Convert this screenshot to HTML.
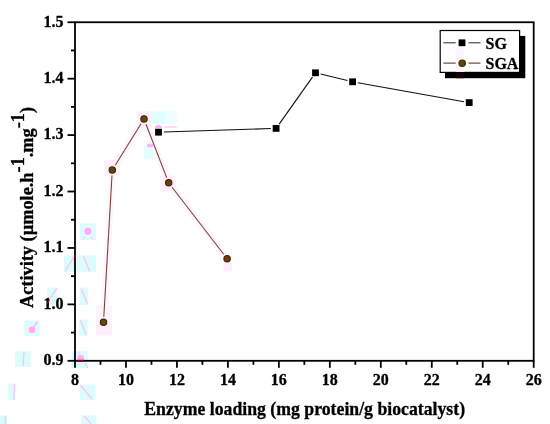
<!DOCTYPE html>
<html><head><meta charset="utf-8"><title>Activity vs Enzyme loading</title>
<style>html,body{margin:0;padding:0;background:#fff;width:550px;height:424px;overflow:hidden}svg{display:block}</style>
</head><body>
<svg width="550" height="424" viewBox="0 0 550 424">
<style>
.t{font-family:"Liberation Serif",serif;font-weight:bold;font-size:16px;fill:#000;stroke:#000;stroke-width:0.3px}
.ti{font-family:"Liberation Serif",serif;font-weight:bold;font-size:17.6px;fill:#000;stroke:#000;stroke-width:0.3px}
</style>
<rect width="550" height="424" fill="#fff"/>
<polyline points="103.5,322.3 112.3,170.0 144.0,119.0 168.7,182.8 227.1,258.7" fill="none" stroke="#fef6fc" stroke-width="7" stroke-linejoin="round"/>
<rect x="136.4" y="111.4" width="15.60" height="16.30" fill="#fdf0fb"/>
<rect x="104.2" y="160" width="15.80" height="15.40" fill="#fdf0fb"/>
<rect x="160.3" y="175.3" width="15.10" height="16.30" fill="#fdf0fb"/>
<rect x="96" y="305" width="16.00" height="13.50" fill="#fef5fc"/>
<rect x="96" y="318.5" width="16.00" height="17.00" fill="#fdf0fb"/>
<rect x="223.3" y="262.5" width="8.70" height="9.00" fill="#fdf0fb"/>
<rect x="80" y="223.4" width="16.10" height="16.70" fill="#dbfcfc"/>
<circle cx="87.9" cy="231.3" r="4.7" fill="#fff" opacity="0.6"/><circle cx="87.9" cy="231.3" r="3.7" fill="#ffabfb"/>
<line x1="85" y1="236" x2="83" y2="240" stroke="#ffd0f8" stroke-width="1.3"/>
<line x1="91" y1="236" x2="93" y2="240" stroke="#ffd0f8" stroke-width="1.3"/>
<rect x="64" y="255.5" width="11.00" height="16.30" fill="#dbfcfc"/>
<line x1="65.1" y1="271.5" x2="74.2" y2="256.2" stroke="#ffc0f5" stroke-width="1.3"/>
<rect x="77" y="255.5" width="19.00" height="16.30" fill="#dbfcfc"/>
<line x1="83.6" y1="256.2" x2="89.5" y2="271.5" stroke="#ffc0f5" stroke-width="1.3"/>
<rect x="47.1" y="287.6" width="9.80" height="17.40" fill="#dbfcfc"/>
<line x1="48.2" y1="301.3" x2="56.9" y2="288.2" stroke="#ffc0f5" stroke-width="1.3"/>
<rect x="79.8" y="287.6" width="8.20" height="17.40" fill="#dbfcfc"/>
<line x1="81.2" y1="288.7" x2="87.4" y2="303.4" stroke="#ffc0f5" stroke-width="1.3"/>
<rect x="24.3" y="320.4" width="15.40" height="15.50" fill="#dbfcfc"/>
<circle cx="32" cy="329.7" r="4.5" fill="#fff" opacity="0.6"/><circle cx="32" cy="329.7" r="3.5" fill="#ffabfb"/>
<line x1="32" y1="329.7" x2="37.5" y2="321.5" stroke="#ffabfb" stroke-width="1.3"/>
<rect x="79.1" y="319.6" width="8.50" height="16.30" fill="#dbfcfc"/>
<line x1="80.5" y1="320.5" x2="86" y2="334.5" stroke="#ffc0f5" stroke-width="1.3"/>
<rect x="15" y="351.3" width="15.50" height="15.70" fill="#dbfcfc"/>
<line x1="24" y1="352" x2="23" y2="366" stroke="#ffc0f5" stroke-width="1.3"/>
<rect x="71.7" y="351.3" width="16.10" height="16.70" fill="#dbfcfc"/>
<circle cx="80.7" cy="358.3" r="4.6" fill="#fff" opacity="0.6"/><circle cx="80.7" cy="358.3" r="3.6" fill="#ffabfb"/>
<line x1="78.6" y1="351.3" x2="79.2" y2="355" stroke="#ffc0f5" stroke-width="1.2"/>
<line x1="85" y1="363" x2="88" y2="368" stroke="#ffc0f5" stroke-width="1.2"/>
<rect x="8.2" y="383.6" width="7.30" height="16.40" fill="#dbfcfc"/>
<line x1="14.5" y1="384" x2="13.7" y2="400" stroke="#ffc0f5" stroke-width="1.3"/>
<rect x="80" y="384.5" width="15.50" height="15.50" fill="#dbfcfc"/>
<line x1="80.5" y1="385" x2="91.8" y2="399" stroke="#ffc0f5" stroke-width="1.3"/>
<rect x="0" y="415.5" width="7.00" height="8.50" fill="#dbfcfc"/>
<line x1="5.5" y1="416" x2="5" y2="424" stroke="#ffc0f5" stroke-width="1.3"/>
<rect x="81" y="415.5" width="15.40" height="8.50" fill="#dbfcfc"/>
<line x1="84.5" y1="416" x2="91" y2="424" stroke="#ffc0f5" stroke-width="1.3"/>
<rect x="152" y="111.4" width="13.50" height="12.70" fill="#e2fdfd"/>
<rect x="165.5" y="111.4" width="11.30" height="12.70" fill="#eefefe"/>
<path d="M154.8 128.6 L154.8 126.5 Q158.3 122.8 161.9 126.5 L161.9 128.6 Z" fill="#ffb0f8"/>
<line x1="164.7" y1="127" x2="176.8" y2="127" stroke="#ffc8f6" stroke-width="1.4"/>
<rect x="144.2" y="144.7" width="8.50" height="14.80" fill="#e2fdfd"/>
<ellipse cx="150.2" cy="145.4" rx="3.3" ry="1.9" fill="#ffb0f8"/>
<rect x="75.0" y="22.25" width="458.70000000000005" height="338.55" fill="none" stroke="#000" stroke-width="1.8"/>
<line x1="67.5" y1="360.80" x2="75.0" y2="360.80" stroke="#000" stroke-width="1.8"/>
<line x1="71.0" y1="332.59" x2="75.0" y2="332.59" stroke="#000" stroke-width="1.8"/>
<text x="63.6" y="365.10" text-anchor="end" class="t">0.9</text>
<line x1="67.5" y1="304.38" x2="75.0" y2="304.38" stroke="#000" stroke-width="1.8"/>
<line x1="71.0" y1="276.16" x2="75.0" y2="276.16" stroke="#000" stroke-width="1.8"/>
<text x="63.6" y="308.68" text-anchor="end" class="t">1.0</text>
<line x1="67.5" y1="247.95" x2="75.0" y2="247.95" stroke="#000" stroke-width="1.8"/>
<line x1="71.0" y1="219.74" x2="75.0" y2="219.74" stroke="#000" stroke-width="1.8"/>
<text x="63.6" y="252.25" text-anchor="end" class="t">1.1</text>
<line x1="67.5" y1="191.52" x2="75.0" y2="191.52" stroke="#000" stroke-width="1.8"/>
<line x1="71.0" y1="163.31" x2="75.0" y2="163.31" stroke="#000" stroke-width="1.8"/>
<text x="63.6" y="195.82" text-anchor="end" class="t">1.2</text>
<line x1="67.5" y1="135.10" x2="75.0" y2="135.10" stroke="#000" stroke-width="1.8"/>
<line x1="71.0" y1="106.89" x2="75.0" y2="106.89" stroke="#000" stroke-width="1.8"/>
<text x="63.6" y="139.40" text-anchor="end" class="t">1.3</text>
<line x1="67.5" y1="78.68" x2="75.0" y2="78.68" stroke="#000" stroke-width="1.8"/>
<line x1="71.0" y1="50.46" x2="75.0" y2="50.46" stroke="#000" stroke-width="1.8"/>
<text x="63.6" y="82.98" text-anchor="end" class="t">1.4</text>
<line x1="67.5" y1="22.25" x2="75.0" y2="22.25" stroke="#000" stroke-width="1.8"/>
<text x="63.6" y="26.55" text-anchor="end" class="t">1.5</text>
<line x1="75.00" y1="360.8" x2="75.00" y2="367.8" stroke="#000" stroke-width="1.8"/>
<line x1="100.48" y1="360.8" x2="100.48" y2="364.8" stroke="#000" stroke-width="1.8"/>
<text x="75.00" y="385" text-anchor="middle" class="t">8</text>
<line x1="125.97" y1="360.8" x2="125.97" y2="367.8" stroke="#000" stroke-width="1.8"/>
<line x1="151.45" y1="360.8" x2="151.45" y2="364.8" stroke="#000" stroke-width="1.8"/>
<text x="125.97" y="385" text-anchor="middle" class="t">10</text>
<line x1="176.93" y1="360.8" x2="176.93" y2="367.8" stroke="#000" stroke-width="1.8"/>
<line x1="202.42" y1="360.8" x2="202.42" y2="364.8" stroke="#000" stroke-width="1.8"/>
<text x="176.93" y="385" text-anchor="middle" class="t">12</text>
<line x1="227.90" y1="360.8" x2="227.90" y2="367.8" stroke="#000" stroke-width="1.8"/>
<line x1="253.38" y1="360.8" x2="253.38" y2="364.8" stroke="#000" stroke-width="1.8"/>
<text x="227.90" y="385" text-anchor="middle" class="t">14</text>
<line x1="278.87" y1="360.8" x2="278.87" y2="367.8" stroke="#000" stroke-width="1.8"/>
<line x1="304.35" y1="360.8" x2="304.35" y2="364.8" stroke="#000" stroke-width="1.8"/>
<text x="278.87" y="385" text-anchor="middle" class="t">16</text>
<line x1="329.83" y1="360.8" x2="329.83" y2="367.8" stroke="#000" stroke-width="1.8"/>
<line x1="355.32" y1="360.8" x2="355.32" y2="364.8" stroke="#000" stroke-width="1.8"/>
<text x="329.83" y="385" text-anchor="middle" class="t">18</text>
<line x1="380.80" y1="360.8" x2="380.80" y2="367.8" stroke="#000" stroke-width="1.8"/>
<line x1="406.28" y1="360.8" x2="406.28" y2="364.8" stroke="#000" stroke-width="1.8"/>
<text x="380.80" y="385" text-anchor="middle" class="t">20</text>
<line x1="431.77" y1="360.8" x2="431.77" y2="367.8" stroke="#000" stroke-width="1.8"/>
<line x1="457.25" y1="360.8" x2="457.25" y2="364.8" stroke="#000" stroke-width="1.8"/>
<text x="431.77" y="385" text-anchor="middle" class="t">22</text>
<line x1="482.73" y1="360.8" x2="482.73" y2="367.8" stroke="#000" stroke-width="1.8"/>
<line x1="508.22" y1="360.8" x2="508.22" y2="364.8" stroke="#000" stroke-width="1.8"/>
<text x="482.73" y="385" text-anchor="middle" class="t">24</text>
<line x1="533.70" y1="360.8" x2="533.70" y2="367.8" stroke="#000" stroke-width="1.8"/>
<text x="533.70" y="385" text-anchor="middle" class="t">26</text>
<line x1="163.80" y1="132.03" x2="270.80" y2="128.57" stroke="#111" stroke-width="1.1"/>
<line x1="279.16" y1="124.08" x2="312.44" y2="77.12" stroke="#111" stroke-width="1.1"/>
<line x1="320.65" y1="74.05" x2="347.45" y2="80.55" stroke="#111" stroke-width="1.1"/>
<line x1="357.82" y1="82.73" x2="463.98" y2="101.67" stroke="#111" stroke-width="1.1"/>
<rect x="155.10" y="128.80" width="6.8" height="6.8" fill="#000"/>
<rect x="272.70" y="125.00" width="6.8" height="6.8" fill="#000"/>
<rect x="312.10" y="69.40" width="6.8" height="6.8" fill="#000"/>
<rect x="349.20" y="78.40" width="6.8" height="6.8" fill="#000"/>
<rect x="465.80" y="99.20" width="6.8" height="6.8" fill="#000"/>
<line x1="103.82" y1="316.71" x2="111.98" y2="175.59" stroke="#764634" stroke-width="1.1"/>
<line x1="115.26" y1="165.24" x2="141.04" y2="123.76" stroke="#764634" stroke-width="1.1"/>
<line x1="146.02" y1="124.22" x2="166.68" y2="177.58" stroke="#764634" stroke-width="1.1"/>
<line x1="172.11" y1="187.24" x2="223.69" y2="254.26" stroke="#764634" stroke-width="1.1"/>
<circle cx="103.50" cy="322.30" r="3.2" fill="#624a0a" stroke="#442606" stroke-width="1.1"/>
<circle cx="112.30" cy="170.00" r="3.2" fill="#64400c" stroke="#442606" stroke-width="1.1"/>
<circle cx="144.00" cy="119.00" r="3.2" fill="#62460a" stroke="#442606" stroke-width="1.1"/>
<circle cx="168.70" cy="182.80" r="3.2" fill="#6c3c0c" stroke="#442606" stroke-width="1.1"/>
<circle cx="227.10" cy="258.70" r="3.2" fill="#7a360c" stroke="#442606" stroke-width="1.1"/>
<rect x="77.2" y="359.9" width="7" height="1.8" fill="#8a0020"/>
<line x1="47.2" y1="304" x2="49.3" y2="299.5" stroke="#8a0024" stroke-width="1.4"/>
<rect x="74.1" y="255.6" width="1.8" height="3" fill="#8a0024"/>
<rect x="445" y="35.9" width="80.3" height="42.3" fill="#000"/>
<rect x="456" y="72" width="8" height="6.2" fill="#1c0008"/>
<rect x="440.2" y="30.5" width="79.4" height="41.9" fill="#fff" stroke="#000" stroke-width="1.2"/>
<rect x="456" y="47.5" width="8" height="24.3" fill="#fef4fc"/>
<line x1="443.4" y1="42.8" x2="455.7" y2="42.8" stroke="#3a3a3a" stroke-width="1.1"/>
<line x1="468.5" y1="42.8" x2="480.5" y2="42.8" stroke="#3a3a3a" stroke-width="1.1"/>
<rect x="458.6" y="39.4" width="6.8" height="6.8" fill="#000"/>
<text x="485.5" y="48.9" class="t">SG</text>
<line x1="443.4" y1="63.1" x2="455.7" y2="63.1" stroke="#524020" stroke-width="1.1"/>
<line x1="468.5" y1="63.1" x2="480.5" y2="63.1" stroke="#524020" stroke-width="1.1"/>
<circle cx="462.2" cy="63.2" r="3.25" fill="#5e460a" stroke="#3e2806" stroke-width="1.1"/>
<text x="485.5" y="69.3" class="t">SGA</text>
<text transform="translate(144.3,414.7) scale(1.008,1.03)" class="ti">Enzyme loading (mg protein/g biocatalyst)</text>
<text transform="translate(32.5,308) scale(1.015,1.04) rotate(-90)" class="ti">Activity (&#181;mole.h<tspan dy="-8.8">-1</tspan><tspan dy="8.8">.mg</tspan><tspan dy="-8.8">-1</tspan><tspan dy="8.8">)</tspan></text>
</svg>
</body></html>
